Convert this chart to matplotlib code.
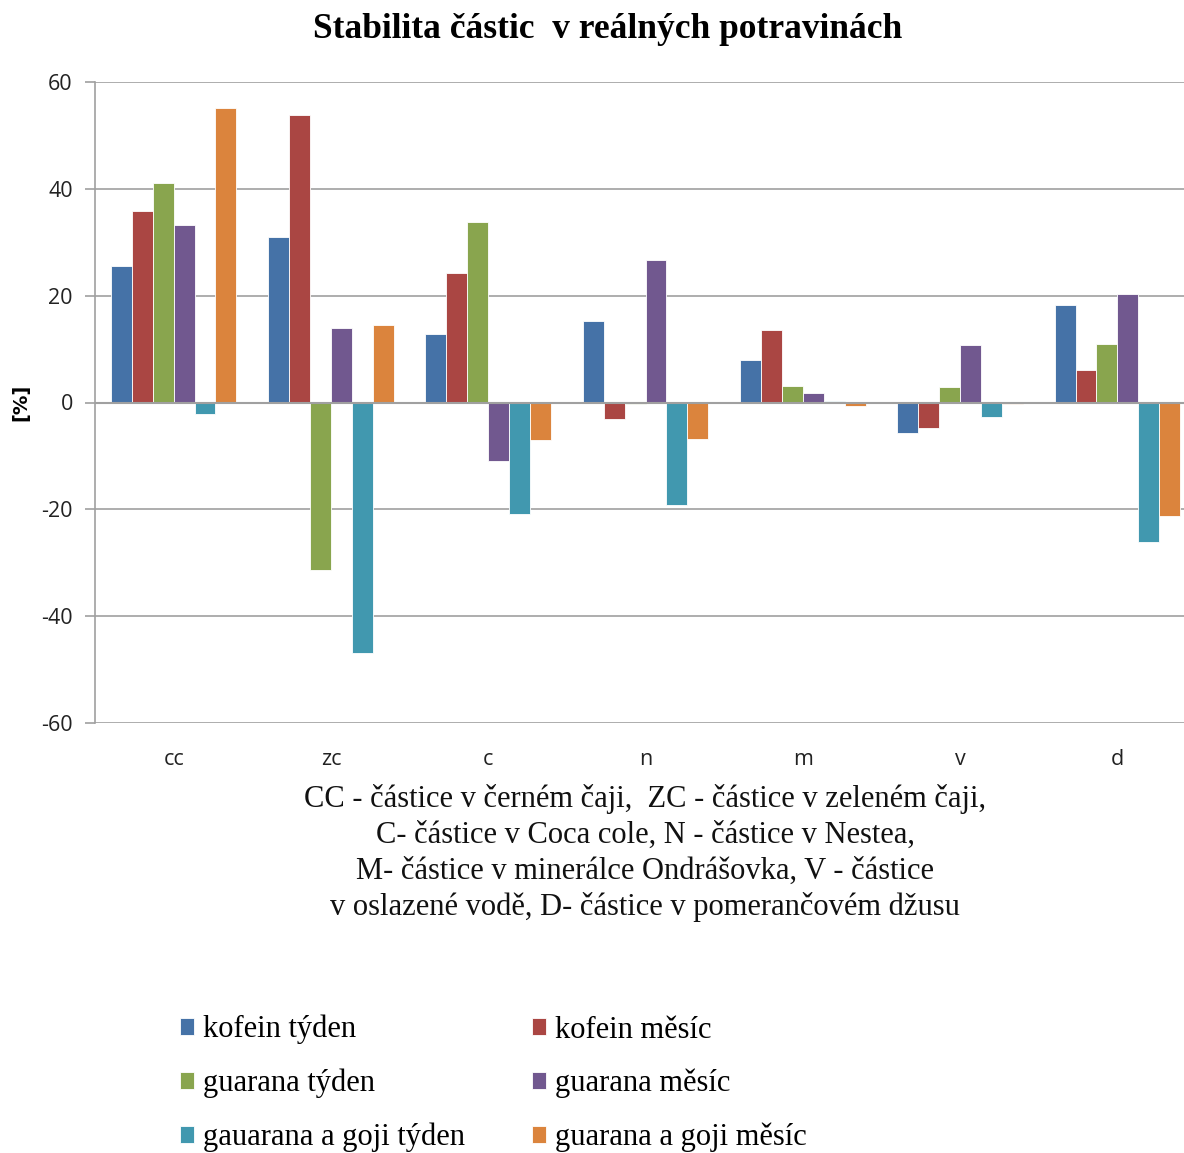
import matplotlib
matplotlib.use("Agg")
import matplotlib.pyplot as plt
import numpy as np

categories = ["cc", "zc", "c", "n", "m", "v", "d"]
series_names = ["kofein týden", "kofein měsíc", "guarana týden", "guarana měsíc",
                "gauarana a goji týden", "guarana a goji měsíc"]
kofein_tyden = [25.6, 31.0, 12.8, 15.2, 8.0, -5.7, 18.2]
kofein_mesic = [35.9, 53.8, 24.3, -3.1, 13.6, -4.8, 6.1]
guarana_tyden = [41.1, -31.4, 33.7, -0.3, 3.1, 2.9, 11.0]
guarana_mesic = [33.3, 13.9, -10.9, 26.6, 1.8, 10.8, 20.4]
goji_tyden = [-2.1, -46.9, -20.9, -19.1, 0.25, -2.7, -26.1]
goji_mesic = [55.1, 14.6, -7.0, -6.8, -0.6, -0.3, -21.3]
yticks = [-60, -40, -20, 0, 20, 40, 60]

series = [kofein_tyden, kofein_mesic, guarana_tyden, guarana_mesic, goji_tyden, goji_mesic]
colors = ["#4572A7", "#AA4643", "#89A54E", "#71588F", "#4198AF", "#DB843D"]

W, H = 1184, 1153
fig = plt.figure(figsize=(W / 100, H / 100), dpi=100)
ax = fig.add_axes([95 / W, 1 - 723 / H, (1196 - 95) / W, (723 - 82) / H])

x = np.arange(len(categories))
bw = 0.133
handles = []
for i, (vals, c) in enumerate(zip(series, colors)):
    b = ax.bar(x + (i - 2.5) * bw, vals, width=bw, color=c, edgecolor="white",
               linewidth=0.6, label=series_names[i], zorder=3)
    handles.append(b)

ax.set_xlim(-0.5, len(categories) - 0.5)
ax.set_ylim(-60, 60)
ax.set_yticks(yticks)
ax.set_yticklabels([str(v) for v in yticks], fontsize=15.5, family="Open Sans", color="#222222")
ax.set_xticks(x)
ax.set_xticklabels(categories, fontsize=15.5, family="Open Sans", color="#222222")
ax.tick_params(axis="x", length=0, pad=19)
ax.tick_params(axis="y", length=7, color="#A0A0A0", width=1.2, pad=9)
ax.yaxis.grid(True, color="#A0A0A0", linewidth=1.2, zorder=0)
ax.axhline(0, color="#A0A0A0", linewidth=1.5, zorder=4)
for s in ["top", "right", "bottom"]:
    ax.spines[s].set_visible(False)
ax.spines["left"].set_color("#A0A0A0")
ax.spines["left"].set_linewidth(1.2)

ax.set_ylabel("[%]", fontsize=14, fontweight="bold", family="DejaVu Sans", labelpad=8)

fig.text(608 / W, 1 - 29 / H, "Stabilita částic  v reálných potravinách",
         ha="center", va="center", fontsize=25.5, fontweight="bold", family="Liberation Serif")

caption = ["CC - částice v černém čaji,  ZC - částice v zeleném čaji,",
           "C- částice v Coca cole, N - částice v Nestea,",
           "M- částice v minerálce Ondrášovka, V - částice",
           "v oslazené vodě, D- částice v pomerančovém džusu"]
for k, line in enumerate(caption):
    fig.text(645 / W, 1 - (799 + 36 * k) / H, line, ha="center", va="center",
             fontsize=22, family="Liberation Serif", color="#111111")

order = [0, 2, 4, 1, 3, 5]
leg = fig.legend([handles[i] for i in order], [series_names[i] for i in order],
                 ncol=2, loc="upper left", bbox_to_anchor=(180 / W, 1 - 1015 / H),
                 frameon=False, prop={"family": "Liberation Serif", "size": 22},
                 handlelength=0.45, handleheight=0.45, handletextpad=0.3,
                 labelspacing=0.8, columnspacing=2.2, borderaxespad=0, borderpad=0)

fig.savefig("out.png", dpi=100)
